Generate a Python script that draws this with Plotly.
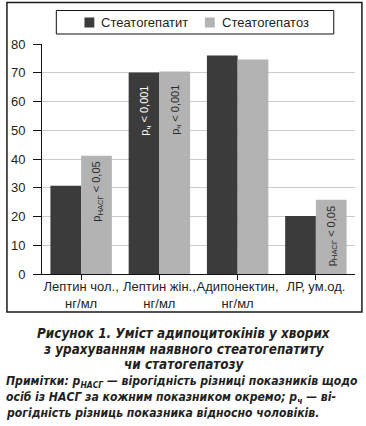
import plotly.graph_objects as go

categories = ["Лептин чол.,<br>нг/мл", "Лептин жін.,<br>нг/мл", "Адипонектин,<br>нг/мл", "ЛР, ум.од."]
steatohepatitis = [30.7, 70.1, 76.0, 20.2]
steatosis = [41.1, 70.4, 74.6, 25.8]
series_names = ["Стеатогепатит", "Стеатогепатоз"]
y_ticks = [0, 10, 20, 30, 40, 50, 60, 70, 80]

# significance labels: (category index, series index, text, y position, colour)
sig_labels = [
    (0, 1, "p<sub>НАСГ</sub> &lt; 0,05", 28.8, "#2a2a2a"),
    (1, 0, "p<sub>ч</sub> &lt; 0,001", 56.8, "#ffffff"),
    (1, 1, "p<sub>ч</sub> &lt; 0,001", 57.0, "#2a2a2a"),
    (3, 1, "p<sub>НАСГ</sub> &lt; 0,05", 13.2, "#2a2a2a"),
]

W, H = 366, 426
L, R, T, B = 38, 11, 44, 152
pw, ph = W - L - R, H - T - B


def px_x(px):
    return (px - L) / pw


def px_y(py):
    return (H - B - py) / ph


DARK = "#3b3b3b"
LIGHT = "#b3b3b3"
COLORS = [DARK, LIGHT]
FONT = "Liberation Sans, Arial, sans-serif"
TXT = "#231f20"

fig = go.Figure()
xs = list(range(len(categories)))
fig.add_trace(go.Bar(x=xs, y=steatohepatitis, name=series_names[0], showlegend=False,
                     marker=dict(color=DARK, line=dict(width=0))))
fig.add_trace(go.Bar(x=xs, y=steatosis, name=series_names[1], showlegend=False,
                     marker=dict(color=LIGHT, line=dict(width=0))))

bargap = 0.215
half = (1 - bargap) / 4
for ci, si, text, yv, col in sig_labels:
    xpos = ci + (half if si == 1 else -half)
    fig.add_annotation(x=xpos, y=yv, xref="x", yref="y", text=text, textangle=-90,
                       showarrow=False, font=dict(size=11, color=col, family=FONT), xshift=1)

# outer frame
fig.add_shape(type="rect", xref="paper", yref="paper",
              x0=px_x(2.5), x1=px_x(362), y0=px_y(312), y1=px_y(2.5),
              line=dict(color="#1a1a1a", width=1.5), fillcolor="rgba(0,0,0,0)", layer="below")

# legend box with swatches and names
fig.add_shape(type="rect", xref="paper", yref="paper",
              x0=px_x(52.5), x1=px_x(333.5), y0=px_y(34), y1=px_y(10.5),
              line=dict(color="#111", width=1), fillcolor="white", layer="below")
legend_x = [81, 203]
for name, col, lx in zip(series_names, COLORS, legend_x):
    fig.add_shape(type="rect", xref="paper", yref="paper",
                  x0=px_x(lx), x1=px_x(lx + 10), y0=px_y(27.5), y1=px_y(17.5),
                  line=dict(width=0), fillcolor=col)
    fig.add_annotation(x=px_x(lx + 15), y=px_y(22.5), xref="paper", yref="paper", text=name,
                       showarrow=False, xanchor="left", yanchor="middle",
                       font=dict(size=13, color=TXT, family=FONT))

CAP_FAMILY = "Liberation Sans Narrow, Arial Narrow, DejaVu Sans Condensed, sans-serif"
caption_font = dict(family=CAP_FAMILY, size=13.4, color=TXT)
note_font = dict(family=CAP_FAMILY, size=12.1, color=TXT)
caption_lines = [
    ("<b><i>Рисунок 1. Уміст адипоцитокінів у хворих</i></b>", 333),
    ("<b><i>з урахуванням наявного стеатогепатиту</i></b>", 349),
    ("<b><i>чи статогепатозу</i></b>", 364),
]
for t, py in caption_lines:
    fig.add_annotation(x=px_x(182), y=px_y(py), xref="paper", yref="paper", text=t, showarrow=False,
                       xanchor="center", yanchor="middle", font=caption_font)

note_lines = [
    ("<b><i>Примітки: p<sub>НАСГ</sub> — вірогідність різниці показників щодо</i></b>", 382),
    ("<b><i>осіб із НАСГ за кожним показником окремо; p<sub>ч</sub> — ві-</i></b>", 398),
    ("<b><i>рогідність різниць показника відносно чоловіків.</i></b>", 413),
]
for t, py in note_lines:
    fig.add_annotation(x=px_x(0), y=px_y(py), xref="paper", yref="paper", text=t, showarrow=False,
                       xanchor="left", yanchor="middle", font=note_font)

fig.update_layout(
    width=W, height=H,
    margin=dict(l=L, r=R, t=T, b=B, pad=0),
    paper_bgcolor="white", plot_bgcolor="white",
    barmode="group", bargap=bargap, bargroupgap=0,
    font=dict(family=FONT, size=13, color=TXT),
    showlegend=False,
)
fig.update_xaxes(tickmode="array", tickvals=xs, ticktext=categories, range=[-0.5, 3.5],
                 tickangle=0, ticklabelstandoff=-5,
                 showline=True, linecolor="#111", linewidth=1, ticks="outside", tickson="boundaries",
                 ticklen=5, tickcolor="#111", showgrid=False, zeroline=False,
                 tickfont=dict(size=13, color=TXT))
fig.update_yaxes(range=[0, 80], tickvals=y_ticks, showline=True, linecolor="#111", linewidth=1,
                 ticks="outside", ticklen=8, tickcolor="#111", showgrid=True, gridcolor="#cccccc",
                 gridwidth=1, zeroline=False, tickfont=dict(size=13, color=TXT), ticklabelstandoff=5)

fig.write_html("out.html")
